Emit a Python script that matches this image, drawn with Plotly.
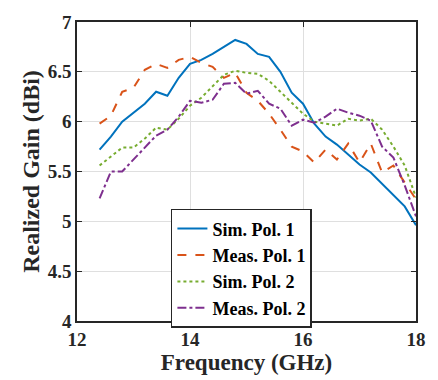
import plotly.graph_objects as go

freq = [12.4, 12.6, 12.8, 13.0, 13.2, 13.4, 13.6, 13.8, 14.0, 14.2, 14.4, 14.6, 14.8,
        15.0, 15.2, 15.4, 15.6, 15.8, 16.0, 16.2, 16.4, 16.6, 16.8, 17.0, 17.2, 17.4,
        17.6, 17.8, 18.0]

sim_pol1 = [5.72, 5.85, 6.00, 6.09, 6.18, 6.30, 6.26, 6.44, 6.58, 6.62, 6.68, 6.75, 6.82,
            6.78, 6.68, 6.65, 6.50, 6.29, 6.18, 5.98, 5.85, 5.77, 5.67, 5.57, 5.49, 5.38,
            5.27, 5.15, 4.96]
meas_pol1 = [5.98, 6.06, 6.30, 6.34, 6.52, 6.58, 6.54, 6.62, 6.65, 6.59, 6.55, 6.44, 6.49,
             6.29, 6.21, 6.08, 5.92, 5.75, 5.70, 5.59, 5.72, 5.62, 5.78, 5.59, 5.78, 5.49,
             5.56, 5.39, 5.22]
sim_pol2 = [5.56, 5.65, 5.74, 5.74, 5.83, 5.94, 5.92, 6.03, 6.16, 6.24, 6.36, 6.47, 6.51,
            6.49, 6.48, 6.41, 6.30, 6.19, 6.08, 6.00, 5.98, 5.96, 6.03, 6.01, 6.03, 5.92,
            5.75, 5.56, 5.24]
meas_pol2 = [5.23, 5.50, 5.50, 5.62, 5.75, 5.86, 5.92, 6.05, 6.21, 6.19, 6.22, 6.38, 6.39,
             6.28, 6.31, 6.18, 6.13, 5.96, 6.02, 5.99, 6.05, 6.13, 6.09, 6.06, 6.01, 5.75,
             5.64, 5.36, 5.05]

x_ticks = [12, 14, 16, 18]
y_ticks = [4, 4.5, 5, 5.5, 6, 6.5, 7]

FONT = "Liberation Serif"

fig = go.Figure()
series = [
    ("Sim. Pol. 1", sim_pol1, "#0072BD", "solid"),
    ("Meas. Pol. 1", meas_pol1, "#D95319", "dash"),
    ("Sim. Pol. 2", sim_pol2, "#77AC30", "dot"),
    ("Meas. Pol. 2", meas_pol2, "#7E2F8E", "dashdot"),
]
for name, vals, color, dash in series:
    fig.add_trace(go.Scatter(x=freq, y=vals, mode="lines", name=f"<b>{name}</b>",
                             line=dict(color=color, width=2, dash=dash)))

axis_common = dict(showline=True, linecolor="#262626", linewidth=1.5, mirror="ticks",
                   ticks="inside", ticklen=5, tickwidth=1.2, tickcolor="#262626",
                   showgrid=True, gridcolor="#DFDFDF", gridwidth=1.2, zeroline=False,
                   tickfont=dict(family=FONT, size=19, color="#262626"))

fig.update_layout(
    width=438, height=380,
    margin=dict(l=77, r=15, t=16, b=58),
    paper_bgcolor="white", plot_bgcolor="white",
    font=dict(family=FONT, size=18, color="#262626"),
    xaxis=dict(range=[12, 18], tickvals=x_ticks, ticktext=[f"<b>{t}</b>" for t in x_ticks],
               title=dict(text="<b>Frequency (GHz)</b>", font=dict(family=FONT, size=23), standoff=2),
               **axis_common),
    yaxis=dict(range=[4, 7], tickvals=y_ticks, ticktext=[f"<b>{t:g}</b>" for t in y_ticks],
               title=dict(text="<b>Realized Gain (dBi)</b>", font=dict(family=FONT, size=24), standoff=1),
               **axis_common),
    legend=dict(x=0.277, y=0.375, xanchor="left", yanchor="top",
                bgcolor="white", bordercolor="#262626", borderwidth=1.5,
                font=dict(family=FONT, size=18, color="black"),
                tracegroupgap=0, itemwidth=30),
)

fig.write_html("out.html")
